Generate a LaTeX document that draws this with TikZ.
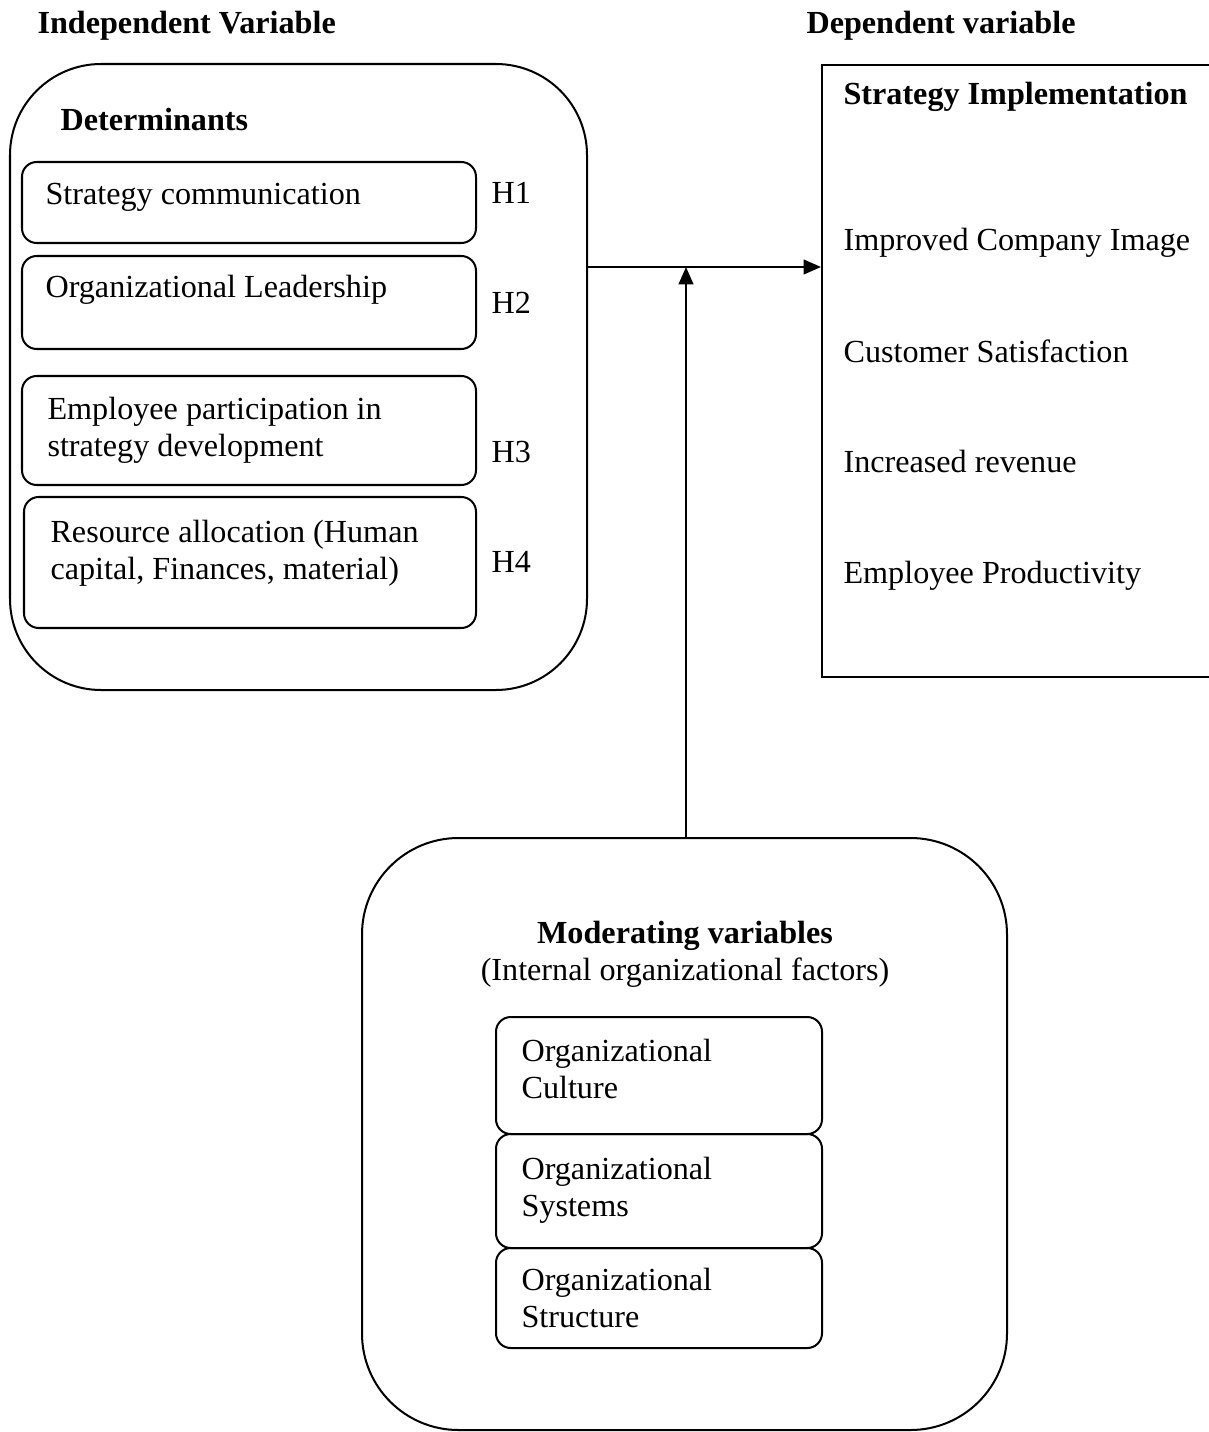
\documentclass[tikz,border=0pt]{standalone}
\usepackage{fontspec}
\setmainfont{Liberation Serif}
\usetikzlibrary{arrows.meta,fit}

\begin{document}
\begin{tikzpicture}[x=0.373pt,y=-0.373pt,
    every node/.style={font=\fontsize{12}{13.8}\selectfont},
    txt/.style={anchor=base west,inner sep=0pt,align=left},
    head/.style={txt,font=\fontsize{12}{13.8}\selectfont\bfseries},
    bigbox/.style={draw,line width=0.75pt,rounded corners=34pt,inner sep=0pt},
    smallbox/.style={draw,line width=0.75pt,rounded corners=5.5pt,inner sep=0pt},
    flow/.style={line width=0.75pt,-{Triangle[length=6.5pt,width=5.5pt]}}]
    \useasboundingbox (0,0) rectangle (1209,1432);

    % headings
    \node[head] (ivar) at (37,34) {Independent Variable};
    \node[head] (dvar) at (806,34) {Dependent variable};

    % independent side
    \node[bigbox,fit={(10,64) (587,690)}] (indep) {};
    \node[head] (detlab) at (60,131) {Determinants};
    \node[smallbox,fit={(22,162) (476,243)}] (comm) {};
    \node[smallbox,fit={(22,256) (476,349)}] (lead) {};
    \node[smallbox,fit={(22,376) (476,485)}] (part) {};
    \node[smallbox,fit={(24,497) (476,628)}] (res) {};
    \node[txt] (commtxt) at (45,205) {Strategy communication};
    \node[txt] (leadtxt) at (45,298) {Organizational Leadership};
    % multi-line nodes sit on their last line
    \node[txt] (parttxt) at (47,456) {Employee participation in\\strategy development};
    \node[txt] (restxt) at (50,579) {Resource allocation (Human\\capital, Finances, material)};
    \node[txt] (h1) at (491,204) {H1};
    \node[txt] (h2) at (491,313) {H2};
    \node[txt] (h3) at (491,462) {H3};
    \node[txt] (h4) at (491,572) {H4};

    % dependent side
    \node[draw,line width=0.75pt,inner sep=0pt,fit={(822,65) (1213,677)}] (dep) {};
    \node[head] (implab) at (843,105) {Strategy Implementation};
    \node[txt] (image) at (843,251) {Improved Company Image};
    \node[txt] (satis) at (843,362) {Customer Satisfaction};
    \node[txt] (revenue) at (843,472) {Increased revenue};
    \node[txt] (prod) at (843,583) {Employee Productivity};

    % moderating side
    \node[bigbox,rounded corners=36pt,fit={(362,838) (1007,1430)}] (mod) {};
    \node[head,anchor=base] (modlab) at (685,943) {Moderating variables};
    \node[txt,anchor=base] (modsub) at (685,980) {(Internal organizational factors)};
    \node[smallbox,fit={(496,1017) (822,1134)}] (cult) {};
    \node[smallbox,fit={(496,1134) (822,1248)}] (syst) {};
    \node[smallbox,fit={(496,1248) (822,1348)}] (struc) {};
    \node[txt] (culttxt) at (521,1098) {Organizational\\Culture};
    \node[txt] (systtxt) at (521,1216) {Organizational\\Systems};
    \node[txt] (structxt) at (521,1327) {Organizational\\Structure};

    % arrows
    \coordinate (join) at (686,267);
    \draw[flow] (indep.east |- join) -- (dep.west |- join);
    \draw[flow] (join |- mod.north) -- (join);
\end{tikzpicture}
\end{document}
